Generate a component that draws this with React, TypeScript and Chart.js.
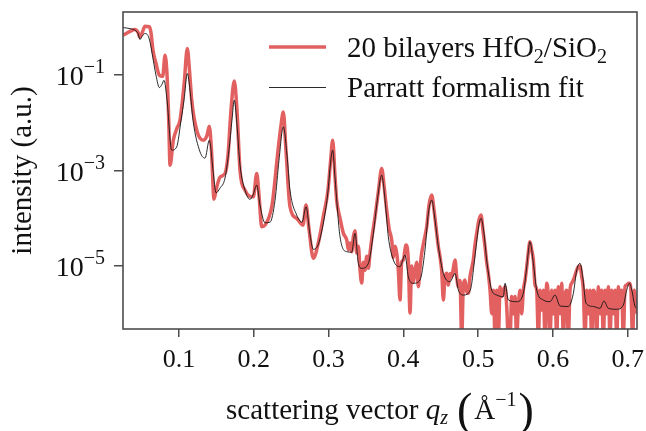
import React, { useEffect, useRef } from "react";
import { Chart, registerables } from "chart.js";

Chart.register(...registerables);

const FONT = "'Liberation Serif', 'Times New Roman', serif";
const AXIS_COLOR = "#4d4d4d";
const TEXT_COLOR = "#111111";
const RED = "rgb(226,96,96)";

// ---- data ----
const seriesLabels = ["20 bilayers HfO₂/SiO₂", "Parratt formalism fit"];

const measuredQ = [0.0251,0.0345,0.0411,0.0452,0.0478,0.0505,0.0545,0.0603,0.0625,0.0652,0.0692,0.0737,0.0782,0.0813,0.0840,0.0862,0.0880,0.0924,0.0973,0.1013,0.1067,0.1111,0.1140,0.1170,0.1237,0.1325,0.1374,0.1405,0.1434,0.1468,0.1495,0.1548,0.1615,0.1655,0.1695,0.1739,0.1775,0.1816,0.1882,0.1994,0.2039,0.2070,0.2106,0.2150,0.2244,0.2324,0.2364,0.2395,0.2430,0.2484,0.2574,0.2658,0.2698,0.2738,0.2796,0.2862,0.2929,0.2992,0.3028,0.3055,0.3085,0.3108,0.3153,0.3197,0.3243,0.3265,0.3287,0.3309,0.3331,0.3353,0.3376,0.3398,0.3421,0.3443,0.3465,0.3487,0.3510,0.3532,0.3554,0.3580,0.3621,0.3668,0.3710,0.3741,0.3777,0.3810,0.3844,0.3866,0.3889,0.3911,0.3933,0.3955,0.3977,0.3999,0.4035,0.4066,0.4089,0.4111,0.4133,0.4155,0.4178,0.4200,0.4222,0.4245,0.4278,0.4312,0.4343,0.4379,0.4410,0.4446,0.4468,0.4490,0.4512,0.4535,0.4557,0.4580,0.4602,0.4624,0.4646,0.4668,0.4691,0.4713,0.4735,0.4757,0.4780,0.4802,0.4824,0.4846,0.4869,0.4891,0.4913,0.4935,0.4958,0.4981,0.5009,0.5038,0.5065,0.5092,0.5114,0.5136,0.5159,0.5182,0.5204,0.5226,0.5248,0.5270,0.5293,0.5315,0.5337,0.5360,0.5382,0.5404,0.5426,0.5448,0.5470,0.5493,0.5515,0.5537,0.5560,0.5582,0.5604,0.5627,0.5650,0.5672,0.5693,0.5716,0.5738,0.5761,0.5783,0.5805,0.5827,0.5850,0.5872,0.5894,0.5917,0.5939,0.5961,0.5984,0.6006,0.6028,0.6050,0.6072,0.6095,0.6117,0.6139,0.6162,0.6184,0.6206,0.6228,0.6251,0.6273,0.6296,0.6318,0.6340,0.6362,0.6385,0.6407,0.6429,0.6452,0.6474,0.6496,0.6518,0.6540,0.6563,0.6585,0.6607,0.6630,0.6652,0.6674,0.6697,0.6719,0.6741,0.6763,0.6786,0.6807,0.6830,0.6853,0.6875,0.6897,0.6919,0.6941,0.6964,0.6987,0.7009,0.7022,0.7043,0.7065,0.7088,0.7111];
const measuredI = [0.69,0.83,0.906,0.79,0.63,0.76,1.06,1.04,0.79,0.334,0.178,0.100,0.095,0.262,0.100,0.012,1.3e-3,4.35e-3,7.8e-3,0.0114,0.0618,0.362,0.127,0.030,7.05e-3,4.35e-3,5.5e-3,8.55e-3,2.69e-3,2.53e-4,3.9e-4,7.3e-4,8.7e-4,2.1e-3,0.0185,0.076,0.0185,1.0e-3,3.9e-4,2.83e-4,8.7e-4,3.0e-4,6.65e-5,7.2e-5,1.9e-4,2.69e-3,8.97e-3,0.017,2.69e-3,1.75e-4,1.0e-4,7.2e-5,1.9e-4,6.0e-5,1.45e-5,3.0e-5,1.08e-4,3.9e-4,1.66e-3,4.35e-3,8.05e-4,2.4e-4,1.01e-4,4.9e-5,3.5e-5,2.2e-5,3.03e-5,2.0e-5,4.1e-5,5.5e-5,1.87e-5,2.6e-5,8.0e-6,4.4e-6,1.2e-5,8.2e-6,1.6e-5,9.0e-6,1.87e-5,4.0e-5,1.08e-4,3.9e-4,1.11e-3,4.97e-4,1.49e-4,6.0e-5,3.5e-5,1.5e-5,2.6e-5,1.87e-5,8.0e-6,1.94e-6,1.2e-5,1.34e-5,2.75e-5,1.34e-5,1.04e-6,1.0e-5,4.5e-6,7.6e-6,1.2e-5,3.7e-6,9.0e-6,1.87e-5,3.5e-5,6.65e-5,1.9e-4,3.07e-4,1.49e-4,4.9e-5,2.5e-5,1.57e-5,8.0e-6,1.94e-6,6.0e-6,7.1e-6,4.0e-6,7.0e-6,5.97e-6,9.0e-6,1.34e-5,6.0e-6,3.7e-6,5.0e-6,3e-7,4.0e-6,5.1e-6,3.0e-6,2.68e-6,6.0e-6,9.0e-6,1.34e-5,2.8e-5,4.9e-5,9.0e-5,1.17e-4,5.5e-5,2.54e-5,1.2e-5,7.0e-6,3.1e-6,1.0e-6,3.1e-6,3e-7,3.1e-6,3e-7,3.7e-6,2.3e-6,3.1e-6,3.7e-6,1.4e-6,3e-7,3e-7,2.3e-6,1.0e-6,2.3e-6,3e-7,1.4e-6,3.1e-6,1.0e-6,3.1e-6,5.0e-6,9.7e-6,2.0e-5,3.23e-5,2.2e-5,1.34e-5,4.0e-6,3.1e-6,3e-7,3.1e-6,1.2e-6,3.1e-6,3e-7,4.35e-6,2.3e-6,3e-7,3.1e-6,1.0e-6,3.1e-6,3e-7,3.7e-6,1.0e-6,4.35e-6,3e-7,2.3e-6,3.1e-6,3e-7,3.1e-6,4.35e-6,5.1e-6,6.5e-6,8.2e-6,9.7e-6,1.0e-5,6.0e-6,3.1e-6,3e-7,3.1e-6,1.0e-6,3.1e-6,3e-7,3.1e-6,2.3e-6,3e-7,3.7e-6,1.0e-6,3.1e-6,3e-7,3.1e-6,1.0e-6,3.7e-6,3e-7,3.1e-6,1.0e-6,3.1e-6,3e-7,3.7e-6,1.4e-6,3.1e-6,3e-7,3.7e-6,4.0e-6,4.35e-6,4.35e-6,3.1e-6,3e-7,3.1e-6,1.0e-6];

const fitQ = [0.0251,0.0345,0.0411,0.0452,0.0478,0.0505,0.0545,0.0599,0.0656,0.0692,0.0737,0.0773,0.0799,0.0840,0.0902,0.0969,0.1027,0.1067,0.1111,0.1147,0.1187,0.1281,0.1348,0.1405,0.1455,0.1495,0.1548,0.1615,0.1668,0.1708,0.1739,0.1775,0.1816,0.1882,0.1949,0.1989,0.2039,0.2083,0.2150,0.2217,0.2284,0.2337,0.2395,0.2444,0.2484,0.2574,0.2645,0.2698,0.2752,0.2796,0.2859,0.2925,0.2979,0.3055,0.3085,0.3153,0.3242,0.3309,0.3353,0.3398,0.3443,0.3532,0.3599,0.3652,0.3710,0.3755,0.3799,0.3866,0.3955,0.4022,0.4066,0.4133,0.4222,0.4289,0.4334,0.4379,0.4423,0.4468,0.4535,0.4623,0.4691,0.4735,0.4802,0.4895,0.4962,0.5006,0.5038,0.5078,0.5114,0.5181,0.5248,0.5337,0.5360,0.5404,0.5516,0.5604,0.5650,0.5693,0.5738,0.5783,0.5872,0.5961,0.6028,0.6095,0.6206,0.6273,0.6318,0.6362,0.6398,0.6443,0.6540,0.6630,0.6683,0.6741,0.6853,0.6941,0.6987,0.7022,0.7054,0.7098,0.7124];
const fitI = [1.0,0.95,0.88,0.75,0.56,0.65,0.75,0.60,0.206,0.10,0.0552,0.0648,0.0786,0.0299,2.69e-3,3.15e-3,0.0114,0.030,0.109,0.0485,0.0114,2.48e-3,1.83e-3,4.35e-3,1.02e-3,3.43e-4,4.3e-4,7.0e-4,2.69e-3,0.0114,0.030,8.97e-3,1.3e-3,3.9e-4,2.5e-4,3.07e-4,4.97e-4,1.89e-4,8.07e-5,8.3e-5,2.4e-4,1.66e-3,8.3e-3,2.11e-3,3.9e-4,1.17e-4,8.3e-5,1.75e-4,4.46e-5,2.24e-5,2.75e-5,7.2e-5,2.4e-4,2.69e-3,7.4e-4,4.1e-5,2.0e-5,1.95e-5,4.84e-5,1.14e-5,8.95e-6,1.14e-5,4.84e-5,2.4e-4,8.05e-4,2.4e-4,4.1e-5,1.34e-5,9.7e-6,1.7e-5,5.97e-6,4.35e-6,5.1e-6,2.16e-5,1.27e-4,2.4e-4,9.2e-5,2.54e-5,7.0e-6,4.7e-6,7.0e-6,3.14e-6,2.47e-6,3.14e-6,1.85e-5,6.65e-5,1.0e-4,4.84e-5,1.34e-5,3.14e-6,2.47e-6,2.28e-6,4.35e-6,1.94e-6,1.79e-6,2.68e-6,9.7e-6,3.23e-5,1.14e-5,3.14e-6,1.94e-6,1.79e-6,2.47e-6,1.45e-6,1.42e-6,2.68e-6,8.2e-6,1.14e-5,5.97e-6,1.66e-6,1.42e-6,1.3e-6,1.85e-6,1.3e-6,1.24e-6,1.52e-6,3.14e-6,4.35e-6,3.14e-6,1.42e-6,1.3e-6];

const xTickValues = [0.1, 0.2, 0.3, 0.4, 0.5, 0.6, 0.7];
const yTickExponents = [-1, -3, -5];
const qRange = [0.0251, 0.7124];
const logIntensityRange = [-6.32, 0.326];

type Seg = { t: string; size: number; dy?: number; dx?: number; italic?: boolean };

function segFont(s: Seg) {
  return `${s.italic ? "italic " : ""}${s.size}px ${FONT}`;
}

function drawRich(ctx: CanvasRenderingContext2D, segs: Seg[], x: number, y: number, align: "left" | "right" | "center") {
  let w = 0;
  for (const s of segs) {
    ctx.font = segFont(s);
    w += ctx.measureText(s.t).width + (s.dx || 0);
  }
  let cx = align === "left" ? x : align === "right" ? x - w : x - w / 2;
  ctx.textAlign = "left";
  for (const s of segs) {
    ctx.font = segFont(s);
    cx += s.dx || 0;
    ctx.fillText(s.t, cx, y + (s.dy || 0));
    cx += ctx.measureText(s.t).width;
  }
}

const overlayPlugin = {
  id: "overlay",
  afterDraw(chart: any) {
    const { ctx, chartArea: a, scales } = chart;
    const xs = scales.x;
    const ys = scales.y;
    ctx.save();
    // frame
    ctx.strokeStyle = AXIS_COLOR;
    ctx.lineWidth = 1.6;
    ctx.strokeRect(a.left, a.top, a.right - a.left, a.bottom - a.top);

    ctx.fillStyle = TEXT_COLOR;
    ctx.textBaseline = "alphabetic";

    // x tick labels
    ctx.font = `26px ${FONT}`;
    ctx.textAlign = "center";
    for (const v of xTickValues) {
      ctx.fillText(v.toFixed(1), xs.getPixelForValue(v), 367);
    }

    // y tick labels 10^e
    for (const e of yTickExponents) {
      const y = ys.getPixelForValue(Math.pow(10, e));
      drawRich(ctx, [
        { t: "10", size: 28 },
        { t: "\u2212" + Math.abs(e), size: 20, dy: -12 },
      ], 105, y + 10, "right");
    }

    // y title
    ctx.save();
    ctx.translate(31, (a.top + a.bottom) / 2);
    ctx.rotate(-Math.PI / 2);
    ctx.font = `29px ${FONT}`;
    ctx.textAlign = "center";
    ctx.fillText("intensity (a.u.)", 0, 0);
    ctx.restore();

    // x title
    drawRich(ctx, [
      { t: "scattering vector ", size: 29 },
      { t: "q", size: 29, italic: true },
      { t: "z", size: 20, italic: true, dy: 5 },
      { t: "(", size: 46, dy: 6, dx: 9 },
      { t: "Å", size: 29, dx: 2 },
      { t: "\u22121", size: 20, dy: -13 },
      { t: ")", size: 46, dy: 6, dx: 2 },
    ], (a.left + a.right) / 2, 419, "center");

    // legend
    ctx.lineCap = "butt";
    ctx.strokeStyle = RED;
    ctx.lineWidth = 3.5;
    ctx.beginPath();
    ctx.moveTo(269, 47);
    ctx.lineTo(326, 47);
    ctx.stroke();
    ctx.strokeStyle = "rgba(20,20,20,0.9)";
    ctx.lineWidth = 1;
    ctx.beginPath();
    ctx.moveTo(269, 87.5);
    ctx.lineTo(326, 87.5);
    ctx.stroke();

    ctx.fillStyle = TEXT_COLOR;
    drawRich(ctx, [
      { t: "20 bilayers HfO", size: 29 },
      { t: "2", size: 20, dy: 6 },
      { t: "/SiO", size: 29 },
      { t: "2", size: 20, dy: 6 },
    ], 347, 57, "left");
    drawRich(ctx, [{ t: seriesLabels[1], size: 29 }], 347, 97, "left");
    ctx.restore();
  },
};

export default function App() {
  const ref = useRef<HTMLCanvasElement>(null);

  useEffect(() => {
    const canvas = ref.current;
    if (!canvas) return;
    const chart = new Chart(canvas, {
      type: "line",
      data: {
        datasets: [
          {
            label: seriesLabels[0],
            data: measuredQ.map((q, i) => ({ x: q, y: measuredI[i] })),
            borderColor: RED,
            borderWidth: 3.5,
            pointRadius: 0,
            cubicInterpolationMode: "monotone",
            fill: false,
            order: 2,
            clip: 0,
          } as any,
          {
            label: seriesLabels[1],
            data: fitQ.map((q, i) => ({ x: q, y: fitI[i] })),
            borderColor: "rgba(20,20,20,0.9)",
            borderWidth: 1,
            pointRadius: 0,
            cubicInterpolationMode: "monotone",
            fill: false,
            order: 1,
            clip: 0,
          } as any,
        ],
      },
      options: {
        animation: false,
        responsive: false,
        devicePixelRatio: 1,
        events: [],
        layout: { padding: { top: 12, right: 9, left: 0, bottom: 0 } },
        plugins: { legend: { display: false }, tooltip: { enabled: false }, title: { display: false } },
        scales: {
          x: {
            type: "linear",
            min: qRange[0],
            max: qRange[1],
            afterBuildTicks: (s: any) => {
              s.ticks = xTickValues.map((v) => ({ value: v }));
            },
            afterFit: (s: any) => {
              s.height = 102;
            },
            ticks: { display: false },
            grid: { drawOnChartArea: false, drawTicks: true, tickLength: 8, color: AXIS_COLOR, lineWidth: 1.5 },
            border: { display: false },
          },
          y: {
            type: "logarithmic",
            min: Math.pow(10, logIntensityRange[0]),
            max: Math.pow(10, logIntensityRange[1]),
            afterBuildTicks: (s: any) => {
              s.ticks = yTickExponents.map((e) => ({ value: Math.pow(10, e) }));
            },
            afterFit: (s: any) => {
              s.width = 123;
            },
            ticks: { display: false },
            grid: { drawOnChartArea: false, drawTicks: true, tickLength: 9, color: AXIS_COLOR, lineWidth: 1.5 },
            border: { display: false },
          },
        },
      } as any,
      plugins: [overlayPlugin],
    });
    return () => chart.destroy();
  }, []);

  return (
    <div style={{ position: "fixed", left: 0, top: 0, width: 646, height: 431, background: "#ffffff" }}>
      <canvas ref={ref} width={646} height={431} style={{ display: "block", width: 646, height: 431 }} />
    </div>
  );
}
